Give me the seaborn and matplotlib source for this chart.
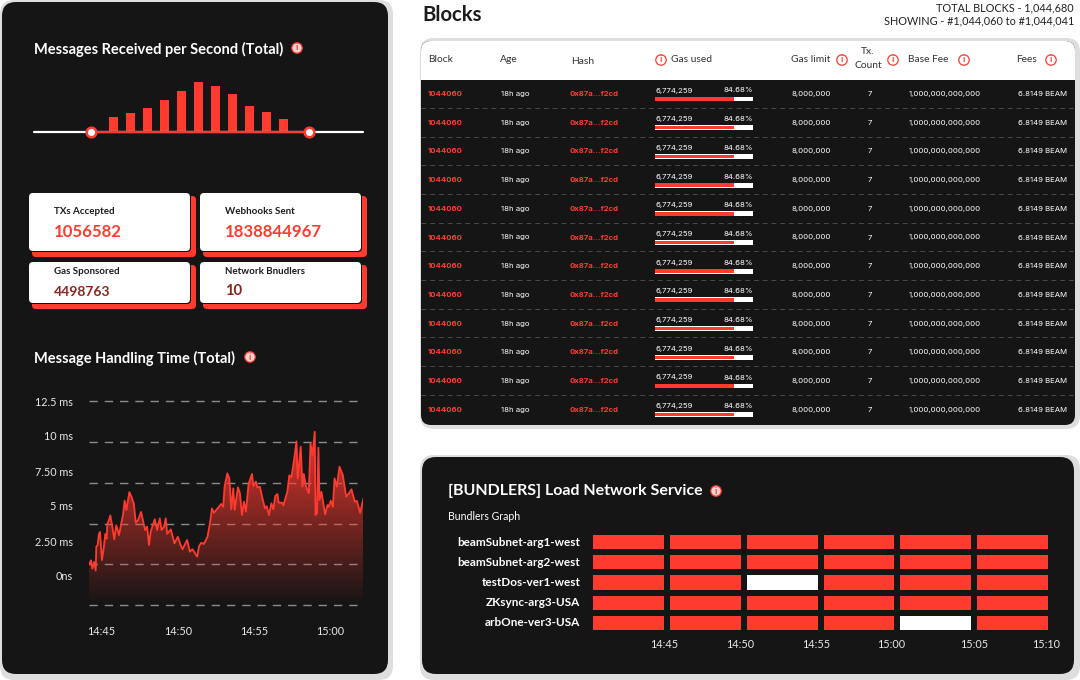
import numpy as np
import pandas as pd
import seaborn as sns
import matplotlib
matplotlib.use("Agg")
import matplotlib.pyplot as plt
from matplotlib.colors import ListedColormap
from matplotlib.patches import Circle, FancyBboxPatch, Rectangle

# ----- dados -----
msg_labels = ["b1", "b2", "b3", "b4", "b5", "b6", "b7", "b8", "b9", "b10", "b11"]
msg_values = [15.3, 19, 23.7, 32, 41.3, 50.3, 46, 38.3, 25.7, 19.7, 12.7]
slider_low = -1.3
slider_high = 11.5

card_titles = ["TXs Accepted", "Webhooks Sent", "Gas Sponsored", "Network Bnudlers"]
card_values = ["1056582", "1838844967", "4498763", "10"]

# minutos depois de 14:00
time_min = [44.17, 44.30, 44.39, 44.50, 44.61, 44.65, 44.74, 44.82, 44.89, 45.02, 45.15, 45.24,
            45.33, 45.37, 45.48, 45.57, 45.70, 45.83, 45.96, 46.14, 46.29, 46.40, 46.51, 46.62,
            46.82, 46.97, 47.11, 47.24, 47.39, 47.59, 47.85, 47.98, 48.11, 48.22, 48.49, 48.64,
            48.82, 48.93, 49.10, 49.21, 49.30, 49.54, 49.78, 50.00, 50.18, 50.31, 50.61, 50.79,
            50.96, 51.27, 51.40, 51.54, 51.71, 51.95, 52.11, 52.24, 52.37, 52.85, 52.98, 53.07,
            53.25, 53.38, 53.51, 53.64, 53.73, 53.95, 54.08, 54.21, 54.34, 54.47, 54.65, 54.87,
            54.96, 55.13, 55.22, 55.39, 55.53, 55.72, 55.83, 55.99, 56.14, 56.27, 56.40, 56.54,
            56.62, 56.84, 56.93, 57.19, 57.32, 57.46, 57.63, 57.79, 57.87, 58.07, 58.18, 58.27,
            58.42, 58.60, 58.71, 58.84, 58.99, 59.04, 59.14, 59.23, 59.30, 59.43, 59.67, 59.82,
            59.91, 60.04, 60.18, 60.29, 60.44, 60.61, 60.83, 61.05, 61.23, 61.40, 61.62, 61.75,
            61.97, 62.19]
handling_ms = [2.49, 2.74, 2.23, 2.64, 2.11, 3.58, 3.68, 4.36, 4.48, 2.76, 3.58, 4.36,
               4.07, 4.97, 5.21, 5.50, 4.81, 4.03, 4.89, 4.29, 5.01, 5.52, 6.40, 5.83,
               6.93, 6.61, 6.24, 5.05, 5.21, 5.71, 4.60, 4.81, 3.68, 4.50, 5.26, 4.60,
               5.32, 4.60, 4.81, 5.32, 4.36, 4.64, 3.78, 4.19, 3.68, 3.42, 3.99, 3.27,
               3.42, 2.97, 3.62, 3.82, 3.74, 4.19, 5.01, 5.93, 5.66, 6.20, 6.03, 7.26,
               8.08, 7.77, 5.87, 7.16, 5.83, 7.22, 6.85, 5.52, 6.34, 5.73, 7.46, 8.04,
               7.30, 7.57, 7.22, 7.26, 6.65, 5.93, 6.07, 5.52, 6.24, 5.87, 6.69, 6.81,
               6.28, 6.28, 6.11, 6.95, 7.96, 7.83, 8.90, 10.04, 7.77, 9.71, 7.26, 8.04,
               7.26, 6.85, 9.92, 9.20, 10.63, 5.52, 5.62, 9.65, 6.44, 6.95, 5.56, 6.13,
               6.03, 6.40, 6.03, 7.77, 7.26, 8.49, 7.98, 6.65, 6.85, 7.10, 6.34, 6.40,
               5.66, 6.54]
grid_ms = [0, 2.5, 5, 7.5, 10, 12.5]
ms_ticks = [0, 2.5, 5, 7.5, 10, 12.5]
ms_labels = ["0ns", "2.50 ms", "5 ms", "7.50 ms", "10 ms", "12.5 ms"]
time_ticks = [45, 50, 55, 60]
time_labels = ["14:45", "14:50", "14:55", "15:00"]

n_linhas = 12
col_block = ["1044060"] * n_linhas
col_age = ["18h ago"] * n_linhas
col_hash = ["0x87a...f2cd"] * n_linhas
col_gas = ["6,774,259"] * n_linhas
col_pct_txt = ["84.68%"] * n_linhas
col_pct = [84.68] * n_linhas
col_limit = ["8,000,000"] * n_linhas
col_tx = ["7"] * n_linhas
col_base = ["1,000,000,000,000"] * n_linhas
col_fees = ["6.8149 BEAM"] * n_linhas

bundlers = ["beamSubnet-arg1-west", "beamSubnet-arg2-west", "testDos-ver1-west",
            "ZKsync-arg3-USA", "arbOne-ver3-USA"]
bundler_times = ["14:45", "14:50", "14:55", "15:00", "15:05", "15:10"]
bundler_ticks = [0.97, 1.95, 2.95, 3.92, 5.0, 5.94]
bundler_status = [[1, 1, 1, 1, 1, 1],
                  [1, 1, 1, 1, 1, 1],
                  [1, 1, 0, 1, 1, 1],
                  [1, 1, 1, 1, 1, 1],
                  [1, 1, 1, 1, 0, 1]]

# ----- estilo -----
sns.set_theme(style="white")
plt.rcParams["font.family"] = ["Lato", "DejaVu Sans"]
RED = "#ff3b30"
DARK = "#151515"
SHADOW = "#dedede"
W, H = 1080, 680

fig = plt.figure(figsize=(W / 100, H / 100), dpi=100, facecolor="white")


def px_axes(left, top, right, bottom):
    ax = fig.add_axes([left / W, 1 - bottom / H, (right - left) / W, (bottom - top) / H])
    ax.patch.set_visible(False)
    return ax


def box(x0, y0, x1, y1, color, r=14, z=1):
    bg.add_patch(FancyBboxPatch((x0 + r, y0 + r), x1 - x0 - 2 * r, y1 - y0 - 2 * r,
                                boxstyle=f"round,pad={r},rounding_size={r}",
                                fc=color, ec="none", zorder=z))


def info(x, y, header=False):
    fill = "white" if header else "#f6d3d0"
    bg.add_patch(Circle((x, y), 5.2, fc=fill, ec=RED, lw=0.9, zorder=6))
    bg.text(x, y, "i", color=RED, fontsize=6.5, fontweight="bold", ha="center", va="center", zorder=7)


# camada de fundo em pixels
bg = px_axes(0, 0, W, H)
bg.set_xlim(0, W)
bg.set_ylim(H, 0)
bg.axis("off")

box(0, 0, 393, 680, SHADOW)
box(2, 2, 388, 674, DARK, z=2)
box(420, 38, 1080, 429, SHADOW)
box(421, 41, 1075, 425, DARK, r=10, z=2)
box(421, 41, 1075, 100, "white", r=10, z=3)
bg.add_patch(Rectangle((421, 80), 654, 30, fc=DARK, ec="none", zorder=4))
box(420, 455, 1080, 680, SHADOW)
box(422, 457, 1074, 674, DARK, z=2)

# ----- titulos -----
title_kw = dict(color="white", fontweight="bold", va="center", zorder=6)
bg.text(34, 49, "Messages Received per Second (Total)", fontsize=10.5, **title_kw)
info(297, 48)
bg.text(34, 358, "Message Handling Time (Total)", fontsize=10.5, **title_kw)
info(250, 357)
bg.text(448, 491, "[BUNDLERS] Load Network Service", fontsize=11.5, **title_kw)
info(716, 491)
bg.text(448, 517, "Bundlers Graph", color="white", fontsize=7.6, va="center", zorder=6)

bg.text(422, 15, "Blocks", color="#1c1c1c", fontsize=14.6, fontweight="bold", va="center")
bg.text(1074, 8, "TOTAL BLOCKS - 1,044,680", color="#222222", fontsize=7.8, ha="right", va="center")
bg.text(1074, 21, "SHOWING - #1,044,060 to #1,044,041", color="#222222", fontsize=7.8, ha="right", va="center")

# ----- barras + slider -----
ax_bar = px_axes(34, 60, 363, 132)
sns.barplot(x=msg_labels, y=msg_values, color=RED, saturation=1, width=0.51, linewidth=0, ax=ax_bar)
ax_bar.set_xlim(-4.66, 14.69)
ax_bar.set_ylim(0, 72)
ax_bar.plot([-4.66, 14.69], [0, 0], color="white", lw=1.6, clip_on=False, zorder=3)
ax_bar.plot([slider_low, slider_high], [0, 0], color=RED, lw=1.6, clip_on=False, zorder=4)
ax_bar.scatter([slider_low, slider_high], [0, 0], s=48, fc="white", ec=RED, lw=1.8, clip_on=False, zorder=5)
ax_bar.axis("off")

# ----- cartoes -----
cards = [(29, 193, 190, 251), (200, 193, 361, 251), (29, 262, 190, 303), (200, 262, 361, 303)]
title_pos = [(54, 211), (225, 211), (54, 271), (225, 272)]
value_pos = [(54, 232), (225, 232), (54, 292), (225, 291)]
value_style = [(RED, 12.1), (RED, 12.1), ("#8b2420", 10), ("#8b2420", 10.6)]
for i in range(4):
    x0, y0, x1, y1 = cards[i]
    box(x0 + 3, y0 + 3, x1 + 6, y1 + 6, RED, r=4, z=3)
    box(x0, y0, x1 + 1, y1 + 1, "#111111", r=4, z=4)
    box(x0, y0, x1, y1, "white", r=4, z=5)
    bg.text(*title_pos[i], card_titles[i], color="#1c1c1c", fontsize=7, fontweight="bold", va="center", zorder=6)
    bg.text(*value_pos[i], card_values[i], color=value_style[i][0], fontsize=value_style[i][1],
            fontweight="bold", va="center", zorder=6)

# ----- linha -----
ax_line = px_axes(89, 401.3, 363.5, 605)
for g in grid_ms:
    ax_line.axhline(g, color="#8c8c8c", lw=1, dashes=(6, 5), zorder=1, clip_on=False)
sns.lineplot(x=time_min, y=handling_ms, color=RED, lw=1.3, ax=ax_line, zorder=4)
poly = ax_line.fill_between(time_min, handling_ms, 0, fc="none", ec="none")
grad = np.zeros((256, 2, 4))
grad[..., :3] = matplotlib.colors.to_rgb(RED)
grad[..., 3] = np.linspace(0.9, 0, 256)[:, None]
im = ax_line.imshow(grad, extent=[time_min[0], time_min[-1], 0, 10.63], aspect="auto", zorder=3)
im.set_clip_path(poly.get_paths()[0], transform=ax_line.transData)
ax_line.set_xlim(time_min[0], time_min[-1])
ax_line.set_ylim(0, 12.5)
ax_line.set_xticks(time_ticks)
ax_line.set_xticklabels(time_labels)
ax_line.set_yticks([])
ax_line.tick_params(axis="x", length=0, pad=15, labelsize=7.8, labelcolor="#e8e8e8")
sns.despine(ax=ax_line, left=True, bottom=True)

ax_ms = px_axes(78, 401, 88, 576)
ax_ms.set_ylim(0, 12.5)
ax_ms.set_yticks(ms_ticks)
ax_ms.set_yticklabels(ms_labels)
ax_ms.set_xticks([])
ax_ms.tick_params(axis="y", length=0, pad=3.6, labelsize=7.8, labelcolor="#e8e8e8")
sns.despine(ax=ax_ms, left=True, bottom=True)

# ----- tabela -----
hdr_kw = dict(color="#333333", fontsize=7.4, va="center", zorder=6)
bg.text(428, 59, "Block", **hdr_kw)
bg.text(500, 59, "Age", **hdr_kw)
bg.text(571, 61, "Hash", **hdr_kw)
bg.text(671, 59, "Gas used", **hdr_kw)
bg.text(791, 59, "Gas limit", **hdr_kw)
bg.text(868, 52, "Tx.", ha="center", **hdr_kw)
bg.text(868, 65, "Count", ha="center", **hdr_kw)
bg.text(908, 59, "Base Fee", **hdr_kw)
bg.text(1016, 59, "Fees", **hdr_kw)
for ix in [661, 842, 893, 964, 1051]:
    info(ix, 60, header=True)

cell = dict(fontsize=5.6, va="center", zorder=6, family=["Inter", "DejaVu Sans"])
for i in range(n_linhas):
    y = 94 + 28.7 * i
    bg.text(428, y, col_block[i], color=RED, fontweight="bold", **cell)
    bg.text(501, y, col_age[i], color="white", **cell)
    bg.text(570, y, col_hash[i], color=RED, fontweight="bold", **cell)
    bg.text(655, y - 3.5, col_gas[i], color="white", **cell)
    bg.text(753, y - 3.5, col_pct_txt[i], color="white", ha="right", **cell)
    bg.text(791, y, col_limit[i], color="white", **cell)
    bg.text(870, y, col_tx[i], color="white", ha="center", **cell)
    bg.text(945, y, col_base[i], color="white", ha="center", **cell)
    bg.text(1067, y, col_fees[i], color="white", ha="right", **cell)
    if i < n_linhas - 1:
        bg.plot([421, 1075], [y + 13.8, y + 13.8], color="#4a4a4a", lw=0.7, dashes=(5, 4), zorder=5)

linhas = [str(i) for i in range(n_linhas)]
ax_gas = px_axes(655, 84.65, 752.5, 429)
sns.barplot(x=[105] * n_linhas, y=linhas, orient="h", color="white", saturation=1, width=0.17, linewidth=0, ax=ax_gas)
sns.barplot(x=col_pct, y=linhas, orient="h", color=RED, saturation=1, width=0.12, linewidth=0, ax=ax_gas)
ax_gas.set_xlim(0, 105)
ax_gas.set_ylim(n_linhas - 0.5, -0.5)
ax_gas.axis("off")

# ----- bundlers -----
ax_heat = px_axes(590, 532, 1051, 633)
sns.heatmap(np.array(bundler_status), cmap=ListedColormap(["white", RED]), vmin=0, vmax=1, cbar=False,
            linewidths=4.3, linecolor=DARK, ax=ax_heat)
ax_heat.set_yticklabels(bundlers, rotation=0, color="white", fontweight="bold", fontsize=8.5)
ax_heat.set_xticks(bundler_ticks)
ax_heat.set_xticklabels(bundler_times, rotation=0, color="#e8e8e8", fontsize=7.8)
ax_heat.tick_params(axis="y", length=0, pad=7)
ax_heat.tick_params(axis="x", length=0, pad=4)

fig.savefig("out.png", dpi=100, facecolor="white")
